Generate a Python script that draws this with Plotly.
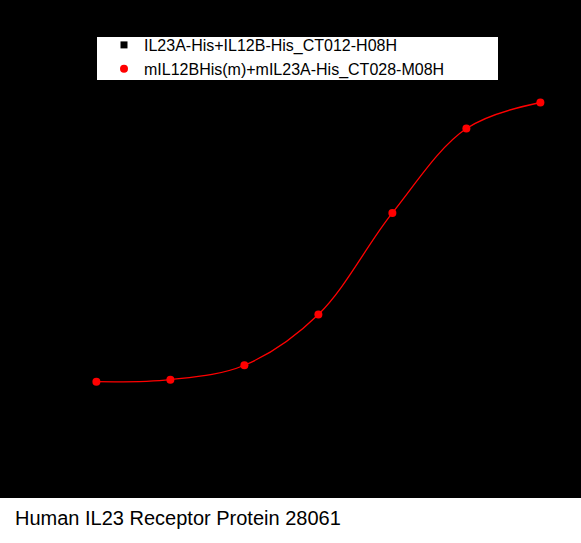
import plotly.graph_objects as go

# Data
conc = [1.6, 40, 1000, 25000, 625000, 15625000, 390625000]
absorb = [0.0, 0.03, 0.24, 0.98, 2.46, 3.69, 4.07]

series_black = "IL23A-His+IL12B-His_CT012-H08H"
series_red = "mIL12BHis(m)+mIL23A-His_CT028-M08H"

x_tickvals = [1, 100, 10000, 1000000, 100000000]
x_ticktext = ["1", "100", "10000", "1000000", "100000000"]
y_tickvals = [0, 1, 2, 3, 4]
y_ticktext = ["0", "1", "2", "3", "4"]

caption = "Human IL23 Receptor Protein 28061"

W, H = 581, 543
ML, MR, MT, MB = 75, 19, 73, 127
PW, PH = W - ML - MR, H - MT - MB


def px_x(px):
    return (px - ML) / PW


def px_y(py):
    return (H - MB - py) / PH


fig = go.Figure()

fig.add_trace(go.Scatter(
    x=[None], y=[None], mode="markers", name=series_black,
    marker=dict(symbol="square", color="black", size=7),
))
fig.add_trace(go.Scatter(
    x=conc, y=absorb, mode="lines", showlegend=False,
    line=dict(color="#ff0000", width=1.3, shape="spline", smoothing=1.0),
    hoverinfo="skip",
))
fig.add_trace(go.Scatter(
    x=conc, y=absorb, mode="markers", name=series_red,
    marker=dict(symbol="circle", color="#ff0000", size=8),
))

fig.update_layout(
    width=W, height=H,
    paper_bgcolor="black", plot_bgcolor="black",
    margin=dict(l=ML, r=MR, t=MT, b=MB, pad=0),
    font=dict(family="Liberation Sans, Arial, sans-serif", color="black"),
    showlegend=True,
    legend=dict(
        x=px_x(104), y=px_y(28), xanchor="left", yanchor="top",
        bgcolor="rgba(0,0,0,0)", borderwidth=0,
        font=dict(size=16, color="black", family="Liberation Sans, Arial, sans-serif"),
        tracegroupgap=0,
    ),
)

# white legend box
fig.add_shape(type="rect", xref="paper", yref="paper", layer="below",
              x0=px_x(97), x1=px_x(498), y0=px_y(80), y1=px_y(37),
              fillcolor="white", line=dict(width=0))
# white caption band
fig.add_shape(type="rect", xref="paper", yref="paper", layer="below",
              x0=px_x(0), x1=px_x(W), y0=px_y(H), y1=px_y(498),
              fillcolor="white", line=dict(width=0))
fig.add_annotation(
    text=caption, xref="paper", yref="paper",
    x=px_x(13), y=px_y(518),
    xanchor="left", yanchor="middle", showarrow=False,
    font=dict(size=20, color="black", family="Liberation Sans, Arial, sans-serif"),
)

fig.update_xaxes(
    type="log", range=[-0.2, 9.0],
    tickvals=x_tickvals, ticktext=x_ticktext,
    ticks="outside", tickcolor="black", ticklen=5,
    showgrid=False, zeroline=False, showline=True, linecolor="black",
    tickfont=dict(size=11, color="black"),
    title=dict(text="Conc.ng/ml", font=dict(size=15, color="black"), standoff=8),
)
fig.update_yaxes(
    range=[-0.5, 4.5],
    tickvals=y_tickvals, ticktext=y_ticktext,
    ticks="outside", tickcolor="black", ticklen=5,
    showgrid=False, zeroline=False, showline=True, linecolor="black",
    tickfont=dict(size=11, color="black"),
    title=dict(text="Abs.(OD450nm-Blank)", font=dict(size=15, color="black"), standoff=10),
)

fig.write_html("out.html", post_script="document.body.style.margin='0';",
               config={"displayModeBar": False})
